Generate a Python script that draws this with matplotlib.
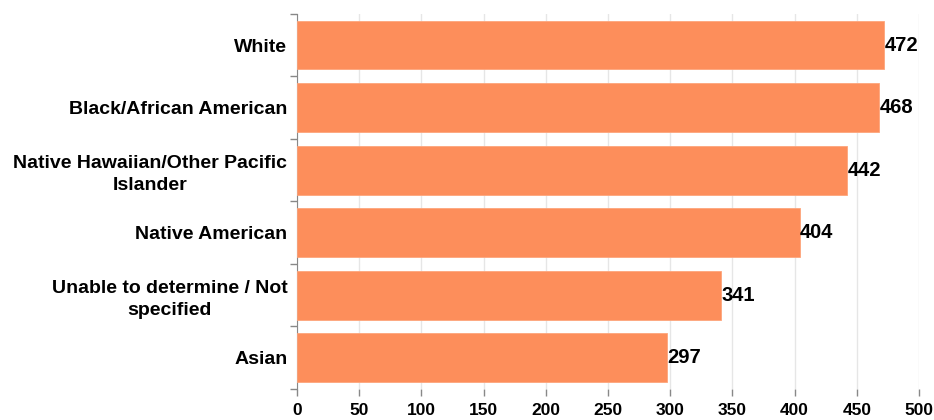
import matplotlib
matplotlib.use("Agg")
import matplotlib.pyplot as plt
import numpy as np

categories = ["White", "Black/African American", "Native Hawaiian/Other Pacific\nIslander",
              "Native American", "Unable to determine / Not\nspecified", "Asian"]
values = [472, 468, 442, 404, 341, 297]
xticks = [0, 50, 100, 150, 200, 250, 300, 350, 400, 450, 500]

plt.rcParams['font.family'] = ['Liberation Sans', 'DejaVu Sans']
fig = plt.figure(figsize=(9.34, 4.2), dpi=100)
ax = fig.add_axes([0.318, 0.074, 0.666, 0.893])

y = np.arange(len(categories))
ax.barh(y, values, height=0.78, color='#FD8E5B', edgecolor='#FDA57C', linewidth=0.6, zorder=3)
for yi, v in zip(y, values):
    ax.text(v + 0.5, yi, str(v), va='center', ha='left', fontsize=14.5, fontweight='bold', zorder=4)

ax.set_ylim(len(categories) - 0.5, -0.5)
ax.set_xlim(0, 500)
ax.set_xticks(xticks)
ax.set_xticklabels([str(t) for t in xticks], fontsize=12.5, fontweight='bold')
ax.set_yticks(y)
ax.set_yticklabels(categories, fontsize=14, fontweight='bold', ha='right', multialignment='center',
                   linespacing=1.4)
ax.set_yticks(np.arange(-0.5, len(categories), 1), minor=True)
ax.tick_params(axis='y', which='major', length=0, pad=7)
ax.tick_params(axis='y', which='minor', length=5, color='#888888', width=1)
ax.tick_params(axis='x', length=5, color='#888888', width=1, pad=5)
for s in ['top', 'right', 'bottom']:
    ax.spines[s].set_visible(False)
ax.spines['left'].set_color('#888888')
ax.grid(axis='x', color='#e6e6e6', linewidth=1, zorder=0)
ax.set_axisbelow(True)

fig.savefig('out.png', dpi=100)
